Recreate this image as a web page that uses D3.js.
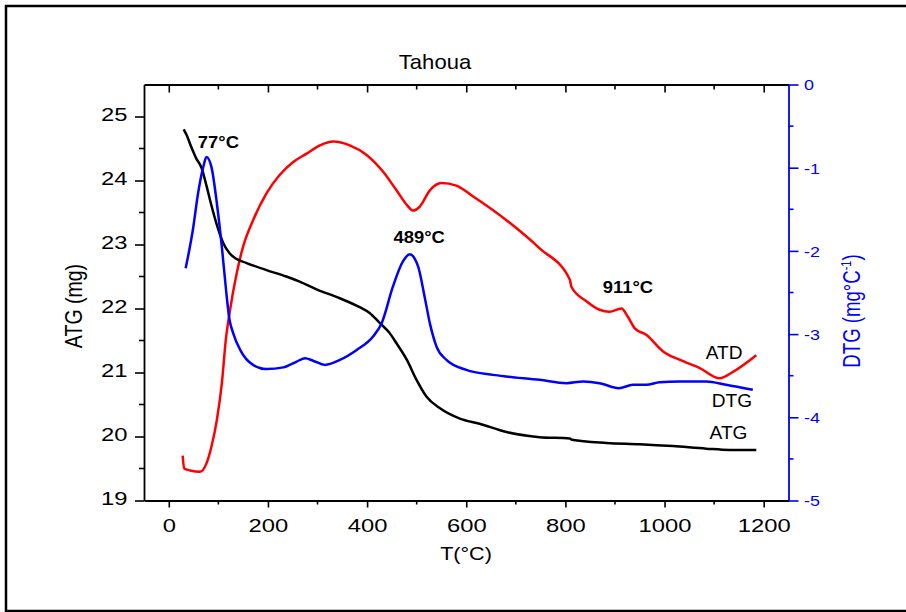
<!DOCTYPE html>
<html>
<head>
<meta charset="utf-8">
<script src="https://cdn.jsdelivr.net/npm/d3@7"></script>
<style>
  body { margin: 0; background: #fff; }
  text { font-family: "Liberation Sans", Arial, sans-serif; }
</style>
</head>
<body>
<div id="chart"></div>
<script>
// TG / DTG / DTA curves
var tATG = [30, 36, 45, 55, 66, 76, 85, 96, 110, 123, 135, 157, 197, 237, 264, 298, 345, 385, 405, 426, 445, 459, 480, 500, 520, 547, 587, 627, 681, 748, 809, 813, 883, 950, 1017, 1084, 1131, 1185];
var vATG = [24.80, 24.71, 24.53, 24.35, 24.20, 23.92, 23.64, 23.33, 23.02, 22.86, 22.78, 22.71, 22.60, 22.50, 22.42, 22.30, 22.16, 22.02, 21.93, 21.77, 21.62, 21.46, 21.20, 20.88, 20.62, 20.44, 20.28, 20.20, 20.07, 19.99, 19.97, 19.95, 19.90, 19.88, 19.85, 19.81, 19.79, 19.79];

var tDTG = [34, 49, 59, 70, 76, 86, 97, 107, 116, 122, 130, 144, 170, 197, 231, 258, 275, 291, 315, 345, 379, 412, 430, 452, 472, 486, 503, 516, 527, 540, 560, 600, 654, 681, 748, 802, 836, 869, 908, 936, 963, 990, 1030, 1084, 1124, 1178];
var vDTG = [-2.21, -1.73, -1.31, -0.98, -0.87, -0.99, -1.43, -1.95, -2.50, -2.81, -2.99, -3.19, -3.37, -3.42, -3.40, -3.33, -3.29, -3.32, -3.37, -3.31, -3.19, -3.03, -2.86, -2.43, -2.13, -2.04, -2.19, -2.55, -2.88, -3.15, -3.31, -3.43, -3.49, -3.51, -3.55, -3.59, -3.57, -3.59, -3.65, -3.61, -3.61, -3.58, -3.57, -3.57, -3.61, -3.67];

// ATD has no axis of its own, drawn in the ATG frame
var tATD = [28, 31, 43, 63, 76, 86, 97, 107, 115, 123, 137, 150, 170, 197, 224, 251, 278, 305, 332, 365, 399, 432, 459, 480, 493, 506, 527, 550, 580, 614, 681, 748, 809, 812, 843, 869, 889, 913, 926, 940, 963, 997, 1030, 1071, 1111, 1138, 1185];
var vATD = [19.70, 19.50, 19.47, 19.45, 19.58, 19.84, 20.26, 20.83, 21.51, 21.95, 22.55, 22.97, 23.38, 23.80, 24.09, 24.29, 24.42, 24.55, 24.61, 24.55, 24.40, 24.14, 23.85, 23.62, 23.53, 23.59, 23.85, 23.96, 23.92, 23.75, 23.38, 22.94, 22.45, 22.34, 22.11, 21.98, 21.95, 22.00, 21.87, 21.69, 21.59, 21.33, 21.20, 21.07, 20.91, 21.01, 21.27];

var xTicks = [0, 200, 400, 600, 800, 1000, 1200];
var xMinor = [100, 300, 500, 700, 900, 1100];
var yLTicks = [19, 20, 21, 22, 23, 24, 25];
var yLMinor = [19.5, 20.5, 21.5, 22.5, 23.5, 24.5];
var yRTicks = [0, -1, -2, -3, -4, -5];
var yRMinor = [-0.5, -1.5, -2.5, -3.5, -4.5];

// peak / curve labels, in T and ATG units
var peakLabels = [["77°C", 100, 24.51], ["489°C", 505, 23.03], ["911°C", 926, 22.24]];
var curveLabels = [["ATD", 1120, 21.21], ["DTG", 1136, 20.46], ["ATG", 1129, 19.96]];

var svgWidth = 906, svgHeight = 612;
var plot = { left: 144, right: 788.5, top: 84.5, bottom: 500.5 };

var svg = d3.select("#chart").append("svg")
  .attr("width", svgWidth)
  .attr("height", svgHeight);

// outer frame (right edge is cut off in the picture)
svg.append("rect")
  .attr("x", 6).attr("y", 6).attr("width", 930).attr("height", 605)
  .attr("fill", "none").attr("stroke", "#000").attr("stroke-width", 2.5);

var x = d3.scaleLinear().domain([-50, 1250]).range([plot.left, plot.right]);
var yL = d3.scaleLinear().domain([19, 25.5]).range([plot.bottom, plot.top]);
var yR = d3.scaleLinear().domain([-5, 0]).range([plot.bottom, plot.top]);
var yATD = yL;

var plain = d => String(d);

// stretch text horizontally around its anchor
function widen(sel, sx) {
  sel.each(function() {
    var t = d3.select(this);
    var tx = +t.attr("x") || 0;
    t.attr("x", 0).attr("transform", "translate(" + tx + ",0) scale(" + sx + ",1)");
  });
}

function styleAxis(g, color) {
  g.select(".domain").attr("stroke", color).attr("stroke-width", 1.8);
  g.selectAll("line").attr("stroke", color).attr("stroke-width", 1.6);
  g.selectAll(".tick text").attr("fill", color);
}

// bottom axis
var gB = svg.append("g").attr("transform", "translate(0," + plot.bottom + ")")
  .call(d3.axisBottom(x).tickValues(xTicks).tickFormat(plain).tickSize(7).tickSizeOuter(0));
gB.selectAll(".tick text").attr("font-size", 18.6).attr("y", 18.3).attr("dy", "0.71em");
widen(gB.selectAll(".tick text"), 1.28);
gB.append("g").selectAll("line").data(xMinor).enter().append("line")
  .attr("x1", d => x(d)).attr("x2", d => x(d)).attr("y1", 0).attr("y2", 4);
styleAxis(gB, "#000");

// top axis, ticks inward
var gT = svg.append("g").attr("transform", "translate(0," + plot.top + ")")
  .call(d3.axisTop(x).tickValues(xTicks).tickSize(-8).tickSizeOuter(0).tickFormat(""));
gT.append("g").selectAll("line").data(xMinor).enter().append("line")
  .attr("x1", d => x(d)).attr("x2", d => x(d)).attr("y1", 0).attr("y2", 5);
styleAxis(gT, "#000");

// left axis
var gL = svg.append("g").attr("transform", "translate(" + plot.left + ",0)")
  .call(d3.axisLeft(yL).tickValues(yLTicks).tickFormat(plain).tickSize(9).tickPadding(7.5).tickSizeOuter(0));
gL.selectAll(".tick text").attr("font-size", 18.6).attr("dy", "0.23em");
widen(gL.selectAll(".tick text"), 1.28);
gL.append("g").selectAll("line").data(yLMinor).enter().append("line")
  .attr("y1", d => yL(d)).attr("y2", d => yL(d)).attr("x1", 0).attr("x2", -5);
styleAxis(gL, "#000");

// right axis (DTG) in blue
var blue = "#0000ff";
var gR = svg.append("g").attr("transform", "translate(" + plot.right + ",0)")
  .call(d3.axisRight(yR).tickValues(yRTicks).tickFormat(plain).tickSize(10).tickPadding(5.5).tickSizeOuter(0));
gR.selectAll(".tick text").attr("font-size", 14).attr("dy", "0.38em");
widen(gR.selectAll(".tick text"), 1.28);
gR.append("g").selectAll("line").data(yRMinor).enter().append("line")
  .attr("y1", d => yR(d)).attr("y2", d => yR(d)).attr("x1", 0).attr("x2", 5);
styleAxis(gR, blue);

// curves
function drawCurve(ts, vs, yScale, color) {
  var pts = ts.map((t, i) => [t, vs[i]]);
  var line = d3.line()
    .x(d => x(d[0]))
    .y(d => yScale(d[1]))
    .curve(d3.curveMonotoneX);
  svg.append("path")
    .datum(pts)
    .attr("d", line)
    .attr("fill", "none")
    .attr("stroke", color)
    .attr("stroke-width", 2.5)
    .attr("stroke-linejoin", "round");
}
drawCurve(tATD, vATD, yATD, "#ff0000");
drawCurve(tATG, vATG, yL, "#000");
drawCurve(tDTG, vDTG, yR, blue);

// labels on the curves
function putText(txt, px, py, size, sx, weight) {
  svg.append("text")
    .attr("transform", "translate(" + px + "," + py + ") scale(" + sx + ",1)")
    .attr("text-anchor", "middle")
    .attr("font-size", size)
    .attr("font-weight", weight)
    .attr("fill", "#000")
    .text(txt);
}
peakLabels.forEach(d => putText(d[0], x(d[1]), yL(d[2]), 16, 1.15, "bold"));
curveLabels.forEach(d => putText(d[0], x(d[1]), yL(d[2]), 17.7, 1.08, "normal"));

// titles
putText("Tahoua", 435, 68.7, 21, 1.05, "normal");
putText("T(°C)", 466, 560, 18.6, 1.16, "normal");

svg.append("text")
  .attr("transform", "translate(82,306) rotate(-90) scale(1.05,1.25)")
  .attr("text-anchor", "middle")
  .attr("font-size", 18.6)
  .text("ATG (mg)");

var dtgLab = svg.append("text")
  .attr("transform", "translate(860,311) rotate(-90) scale(1.0,1.25)")
  .attr("text-anchor", "middle")
  .attr("font-size", 18.6)
  .attr("fill", blue);
dtgLab.append("tspan").text("DTG (mg°C");
dtgLab.append("tspan").attr("font-size", 11).attr("dy", -7).text("-1");
dtgLab.append("tspan").attr("dy", 7).text(")");
</script>
</body>
</html>
